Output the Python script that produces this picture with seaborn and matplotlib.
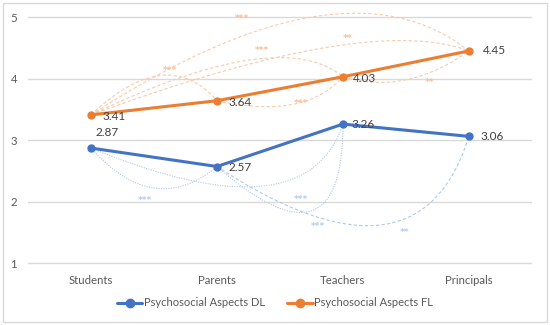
import numpy as np
import pandas as pd
import matplotlib
matplotlib.use("Agg")
import matplotlib.pyplot as plt
import seaborn as sns
from matplotlib.patches import Rectangle
from matplotlib.lines import Line2D

# ---- data ----
groups = ["Students", "Parents", "Teachers", "Principals"]
dl_values = [2.87, 2.57, 3.26, 3.06]
fl_values = [3.41, 3.64, 4.03, 4.45]
series_names = ["Psychosocial Aspects DL", "Psychosocial Aspects FL"]
y_ticks = [1, 2, 3, 4, 5]

# significance arcs: (from idx, to idx, bend x, bend y, label x, label y, label, style)
fl_arcs = [
    (0, 3, 1.75, 5.00, 1.20, 4.98, "***", (0, (3, 2))),
    (0, 2, 1.25, 4.30, 1.36, 4.45, "***", (0, (3, 2))),
    (0, 1, 0.55, 4.05, 0.63, 4.13, "***", (0, (3, 2))),
    (0, 3, 1.85, 4.50, 2.04, 4.66, "**", (0, (3, 2))),
    (1, 2, 1.60, 3.58, 1.67, 3.60, "***", (0, (3, 2))),
    (2, 3, 2.50, 3.98, 2.69, 3.94, "**", (0, (3, 2))),
]
dl_arcs = [
    (0, 1, 0.50, 2.22, 0.43, 2.02, "***", (0, (1, 1.2))),
    (0, 2, 1.35, 2.25, 1.67, 2.04, "***", (0, (1, 1.2))),
    (1, 2, 1.75, 1.85, 1.80, 1.59, "***", (0, (1, 1.2))),
    (1, 3, 2.30, 1.62, 2.49, 1.49, "**", (0, (3, 2))),
]

df = pd.DataFrame({
    "group": groups * 2,
    "value": dl_values + fl_values,
    "series": [series_names[0]] * 4 + [series_names[1]] * 4,
})

blue = "#4472C4"
orange = "#ED7D31"
blue_faint = "#B4C7E7"
orange_faint = "#F8CBAD"
blue_lab = "#B8CAEC"
orange_lab = "#F6C09C"
txt = "#404040"
tick_col = "#595959"

sns.set_theme(style="white")
plt.rcParams["font.family"] = ["Lato", "DejaVu Sans"]

fig = plt.figure(figsize=(5.5, 3.25), dpi=100)
ax = fig.add_axes([0.051, 0.185, 0.916, 0.768])

def draw_arcs(arcs, vals, col, lcol):
    t = np.linspace(0, 1, 80)
    for a, b, mx, my, lx, ly, lab, ls in arcs:
        p0 = np.array([a, vals[a]], float)
        p2 = np.array([b, vals[b]], float)
        m = np.array([mx, my], float)
        c = 2 * m - 0.5 * (p0 + p2)
        pts = ((1 - t) ** 2)[:, None] * p0 + (2 * (1 - t) * t)[:, None] * c + (t ** 2)[:, None] * p2
        ax.plot(pts[:, 0], pts[:, 1], color=col, lw=0.8, ls=ls, zorder=1, clip_on=False)
        ax.text(lx, ly, lab, color=lcol, fontsize=6.5, ha="center", va="center",
                fontweight="bold", zorder=1, family="DejaVu Sans")

draw_arcs(fl_arcs, fl_values, orange_faint, orange_lab)
draw_arcs(dl_arcs, dl_values, blue_faint, blue_lab)

sns.lineplot(data=df, x="group", y="value", hue="series", sort=False,
             palette=[blue, orange], marker="o", markersize=6, lw=2.2,
             markeredgewidth=0, ax=ax, legend=False, zorder=3)

# data labels
dl_off = [(3, 11), (8, -1), (6, 0), (8, 0)]
fl_off = [(8, -1), (8, -1), (7, -1), (10, 0)]
for i, v in enumerate(dl_values):
    dx, dy = dl_off[i]
    ax.annotate(f"{v:.2f}", (i, v), xytext=(dx, dy), textcoords="offset points",
                fontsize=8.5, color=txt, va="center", ha="left")
for i, v in enumerate(fl_values):
    dx, dy = fl_off[i]
    ax.annotate(f"{v:.2f}", (i, v), xytext=(dx, dy), textcoords="offset points",
                fontsize=8.5, color=txt, va="center", ha="left")

ax.set_xlim(-0.5, 3.5)
ax.set_ylim(0.97, 5.03)
ax.set_yticks(y_ticks)
ax.set_xticks(range(len(groups)))
ax.set_xticklabels(groups)
ax.set_xlabel("")
ax.set_ylabel("")
ax.grid(axis="y", color="#D9D9D9", lw=1.0)
ax.grid(axis="x", visible=False)
ax.set_axisbelow(True)
for s in ax.spines.values():
    s.set_visible(False)
ax.tick_params(axis="both", length=0, labelsize=8.2, colors=tick_col)
ax.tick_params(axis="x", pad=7)
ax.tick_params(axis="y", pad=8)

handles = [Line2D([], [], color=blue, lw=2.2, marker="o", markersize=6),
           Line2D([], [], color=orange, lw=2.2, marker="o", markersize=6)]
leg = fig.legend(handles, series_names, loc="center", bbox_to_anchor=(0.5, 0.068),
                 ncol=2, frameon=False, fontsize=8, handlelength=2.3,
                 handletextpad=0.15, columnspacing=2.0)
for t in leg.get_texts():
    t.set_color(tick_col)

fig.patches.append(Rectangle((0.006, 0.008), 0.988, 0.984, transform=fig.transFigure,
                             fill=False, edgecolor="#D9D9D9", lw=1.0))

fig.savefig("out.png", dpi=100)
